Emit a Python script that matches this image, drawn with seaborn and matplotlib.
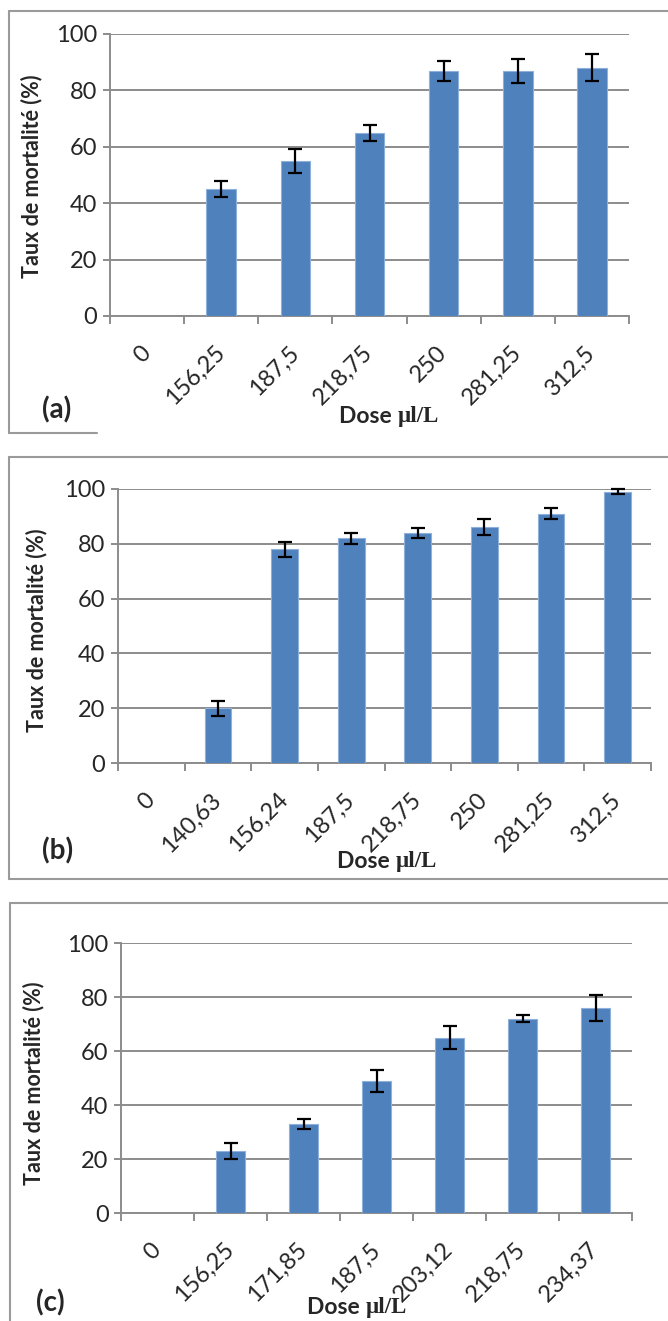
import numpy as np
import pandas as pd
import matplotlib
matplotlib.use("Agg")
import matplotlib.pyplot as plt
from matplotlib.lines import Line2D
import seaborn as sns

# -------------------------------------------------------------
# Données
# -------------------------------------------------------------
doses_a = ['0', '156,25', '187,5', '218,75', '250', '281,25', '312,5']
mort_a = [0, 45, 55, 65, 87, 87, 88]
err_a = [0, 2.8, 4.3, 2.8, 3.5, 4.2, 4.8]

doses_b = ['0', '140,63', '156,24', '187,5', '218,75', '250', '281,25', '312,5']
mort_b = [0, 20, 78, 82, 84, 86, 91, 99]
err_b = [0, 2.8, 2.7, 2.0, 1.9, 2.9, 1.9, 1.0]

doses_c = ['0', '156,25', '171,85', '187,5', '203,12', '218,75', '234,37']
mort_c = [0, 23, 33, 49, 65, 72, 76]
err_c = [0, 3.0, 2.0, 4.0, 4.3, 1.3, 4.8]

y_ticks = [0, 20, 40, 60, 80, 100]

BLEU = '#4F81BD'
GRIS = '#8C8C8C'
SANS = ['Lato', 'DejaVu Sans']
SERIF = ['Liberation Serif', 'DejaVu Serif']

sns.set_theme(style='white')
plt.rcParams['font.family'] = SANS

W, H = 668, 1321
fig = plt.figure(figsize=(W / 100, H / 100), dpi=100)


def fx(px):
    return px / W


def fy(py):
    return 1 - py / H


def trace_panneau(box, doses, mort, err, lettre, pos_lettre, pos_dose, pos_ylabel):
    left, top, right, bottom = box
    ax = fig.add_axes([fx(left), fy(bottom), fx(right) - fx(left), fy(top) - fy(bottom)])
    df = pd.DataFrame({'dose': doses, 'mort': mort, 'err': err})
    sns.barplot(data=df, x='dose', y='mort', color=BLEU, saturation=1, width=0.4,
                edgecolor='#8FB0DA', linewidth=0.8, ax=ax, zorder=3)

    # barres d'erreur
    n = len(doses)
    pos = np.arange(n)
    m = df['mort'] > 0
    ax.errorbar(pos[m], df['mort'][m], yerr=df['err'][m], fmt='none', ecolor='black',
                elinewidth=1.6, capsize=5, capthick=1.6, zorder=4, clip_on=False)

    ax.set_ylim(0, 100)
    ax.set_xlim(-0.5, n - 0.5)
    ax.set_yticks(y_ticks)
    ax.set_yticklabels([str(v) for v in y_ticks], fontsize=17)
    ax.yaxis.grid(True, color=GRIS, linewidth=1.4, zorder=0)
    ax.set_axisbelow(True)

    # graduations x entre les catégories, étiquettes au centre
    ax.set_xticks(np.arange(-0.5, n, 1.0))
    ax.set_xticklabels([])
    ax.set_xticks(pos, minor=True)
    ax.set_xticklabels(doses, minor=True, rotation=45, ha='right', va='center',
                       rotation_mode='anchor', fontsize=17)
    ax.tick_params(axis='x', which='major', direction='out', length=6, width=1.4,
                   color=GRIS, bottom=True)
    ax.tick_params(axis='x', which='minor', length=0, pad=24)
    ax.tick_params(axis='y', direction='out', length=5, width=1.4, color=GRIS,
                   left=True, pad=4)

    for s in ['top', 'right']:
        ax.spines[s].set_visible(False)
    for s in ['left', 'bottom']:
        ax.spines[s].set_color(GRIS)
        ax.spines[s].set_linewidth(1.4)
    ax.set_xlabel('')
    ax.set_ylabel('')

    fig.text(fx(pos_ylabel[0]), fy(pos_ylabel[1]), 'Taux de mortalité (%)', rotation=90,
             ha='center', va='center', fontsize=15.5, fontweight='bold')
    t1 = fig.text(fx(pos_dose[0]), fy(pos_dose[1]), 'Dose ', ha='left', va='center',
                  fontsize=16.5, fontweight='bold')
    ax.annotate('µl/L', xy=(1, 0), xycoords=t1, ha='left', va='bottom',
                fontsize=16.5, fontweight='bold', family=SERIF, annotation_clip=False)
    fig.text(fx(pos_lettre[0]), fy(pos_lettre[1]), lettre, ha='center', va='center',
             fontsize=20, fontweight='bold')
    return ax


trace_panneau((110, 34, 629, 316), doses_a, mort_a, err_a, '(a)', (57, 410), (339, 417), (32, 176))
trace_panneau((118, 489, 651, 763), doses_b, mort_b, err_b, '(b)', (58, 851), (337, 862), (37, 630))
trace_panneau((121, 943, 632, 1213), doses_c, mort_c, err_c, '(c)', (50, 1303), (307, 1308), (34, 1083))

# cadres des panneaux
cadre = dict(color='#9A9A9A', linewidth=1.5)
for (x0, y0, x1, y1) in [
    (9, 11, 668, 11), (9, 11, 9, 433), (9, 433, 97, 433),
    (9, 457, 668, 457), (9, 457, 9, 879), (9, 879, 668, 879),
    (10, 903, 668, 903), (10, 903, 10, 1321),
]:
    fig.add_artist(Line2D([fx(x0), fx(x1)], [fy(y0), fy(y1)], **cadre))

fig.savefig('out.png', dpi=100)
